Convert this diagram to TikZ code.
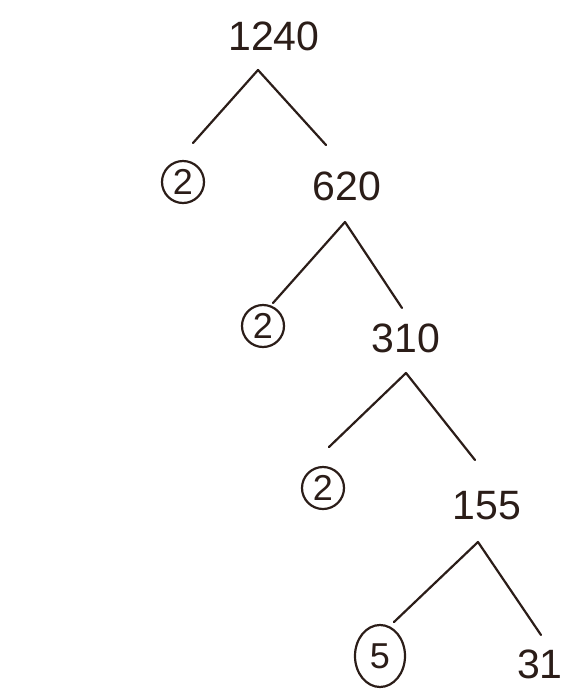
\documentclass[tikz,border=0pt]{standalone}
\usepackage{fontspec}
\setmainfont{Liberation Sans}
\usetikzlibrary{shapes.geometric}
\definecolor{ink}{HTML}{2B1D18}
\begin{document}
\begin{tikzpicture}[x=1pt,y=-1pt,
  num/.style={text=ink, font=\fontsize{41}{41}\selectfont, inner sep=0pt},
  prime/.style={draw=ink, line width=2.2pt, circle, text=ink,
    font=\fontsize{36}{36}\selectfont, inner sep=0pt, minimum size=42pt},
  branch/.style={draw=ink, line width=2.2pt, line cap=round, line join=round}]
\useasboundingbox (0,0) rectangle (568,689);

% factor tree of 1240
\node[num] (n1240) at (274,36) {1240};
\node[prime] (p1) at (183,182) {2};
\node[num] (n620) at (347,186) {620};
\node[prime] (p2) at (263,326) {2};
\node[num] (n310) at (406,338) {310};
\node[prime] (p3) at (323,488) {2};
\node[num] (n155) at (487,506) {155};
\node[prime, ellipse, minimum width=50pt, minimum height=62pt] (p4) at (380,656) {5};
\node[num] (n31) at (540,664) {31};

% split points and branch ends
\coordinate (t1) at (258,70);  \coordinate (l1) at (193,143); \coordinate (r1) at (326,145);
\coordinate (t2) at (345,222); \coordinate (l2) at (273,303); \coordinate (r2) at (402,308);
\coordinate (t3) at (406,373); \coordinate (l3) at (329,447); \coordinate (r3) at (475,460);
\coordinate (t4) at (478,542); \coordinate (l4) at (394,622); \coordinate (r4) at (541,635);

\draw[branch] (l1) -- (t1) -- (r1);
\draw[branch] (l2) -- (t2) -- (r2);
\draw[branch] (l3) -- (t3) -- (r3);
\draw[branch] (l4) -- (t4) -- (r4);
\end{tikzpicture}
\end{document}
